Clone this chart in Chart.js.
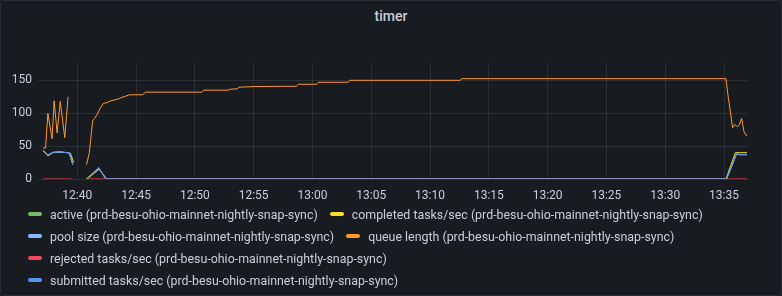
<!DOCTYPE html>
<html lang="en">
<head>
  <meta charset="UTF-8" />
  <title>timer</title>
  <script src="https://cdn.jsdelivr.net/npm/chart.js"></script>
  <style>
    html, body { margin: 0; padding: 0; background: #111217; }
    body { width: 782px; height: 296px; position: relative; overflow: hidden; font-family: Roboto, sans-serif; color: #ccccdc; }
    .panel { position: absolute; left: 0; top: 0; width: 780px; height: 294px; background: #181b1f; border: 1px solid #2a2d33; border-radius: 2px; }
    .title { position: absolute; left: 0; top: 8px; width: 782px; text-align: center; font-size: 14px; font-weight: 500; line-height: 17px; }
    .chart { position: absolute; left: 0; top: 50px; width: 782px; height: 160px; }
    #legend { position: absolute; left: 28px; top: 203px; width: 705px; display: flex; flex-wrap: wrap; font-size: 12.4px; }
    .item { display: flex; align-items: center; height: 22px; margin-right: 12px; white-space: nowrap; }
    .swatch { width: 14px; height: 4px; border-radius: 2px; margin-right: 8px; }
  </style>
</head>
<body>
  <div class="panel"></div>
  <div class="title">timer</div>
  <div class="chart"><canvas id="timerChart"></canvas></div>
  <div id="legend"></div>

  <script>
    // x ticks (minutes after 12:00) and their labels
    const tickMinutes = [40, 45, 50, 55, 60, 65, 70, 75, 80, 85, 90, 95];
    const tickLabels = ['12:40', '12:45', '12:50', '12:55', '13:00', '13:05', '13:10', '13:15', '13:20', '13:25', '13:30', '13:35'];

    // queue length
    const queueTimes = ['12:37:06','12:37:18','12:37:30','12:37:51','12:38:02','12:38:17','12:38:33','12:38:56','12:39:13','12:40:15',
      '12:40:47','12:41:01','12:41:18','12:41:28','12:41:41','12:41:56','12:42:13','12:42:32','12:42:52','12:43:23','12:43:48',
      '12:44:08','12:44:26','12:45:33','12:45:48','12:50:35','12:50:46','12:52:50','12:53:00','12:53:36','12:53:45','12:55:01',
      '12:58:39','12:58:48','13:00:21','13:00:30','13:03:03','13:03:11','13:12:33','13:12:43','13:35:10','13:35:21','13:35:44',
      '13:35:56','13:36:07','13:36:18','13:36:30','13:36:42','13:36:57'];
    const queueLength = [47, 47, 100, 61, 119, 70, 118, 63, 125, null,
      22, 39, 88, 92, 98, 107, 115, 116, 119, 121, 124,
      126, 128, 128, 132, 132, 135, 135, 136.5, 137, 139.5, 140.5,
      141, 144, 144, 147, 147, 150, 150, 152.5, 152.5, 126, 78,
      83, 79.5, 82, 92, 72, 65];

    // pool size / submitted tasks/sec
    const poolTimes = ['12:37:06','12:37:30','12:37:55','12:38:29','12:39:12','12:39:20','12:39:37','12:40:15','12:40:50','12:41:49','12:42:26','13:35:13','13:36:04','13:36:20','13:36:57'];
    const poolSize = [43, 36, 40.5, 41, 40, 39, 22, null, 0, 17, 0, 0, 38, 37, 37];
    const submitted = [43, 36, 40.5, 41, 40, 39, 22, null, 0, 17, 0, 0, 38, 37, 37];

    // active
    const activeTimes = ['12:37:06','12:37:30','12:37:55','12:38:29','12:39:12','12:39:20','12:39:37','12:40:15','12:40:45','12:41:49','12:42:26','13:35:13','13:36:04','13:36:20','13:36:57'];
    const active = [43, 36, 40.5, 41, 40, 39, 22, null, 0, 17, 0, 0, 38, 37, 37];

    // completed tasks/sec
    const completedTimes = ['12:37:06','12:37:30','12:37:55','12:38:29','12:39:12','12:39:25','12:39:42','12:40:15','12:40:50','12:41:52','12:42:30','13:35:10','13:35:58','13:36:57'];
    const completed = [43, 35, 40, 41, 40, 39, 25, null, 0, 15, 0, 0, 40, 40];

    // rejected tasks/sec
    const rejectedTimes = ['12:37:06','12:39:30','12:40:15','12:40:50','13:36:57'];
    const rejected = [0, 0, null, 0, 0];

    const host = ' (prd-besu-ohio-mainnet-nightly-snap-sync)';

    function toMin(s) {
      const [h, m, sec] = s.split(':').map(Number);
      return (h - 12) * 60 + m + sec / 60;
    }
    function pts(times, values) {
      return times.map((t, i) => ({ x: toMin(t), y: values[i] }));
    }

    const datasets = [
      { label: 'active' + host, data: pts(activeTimes, active), borderColor: '#73BF69', order: 5 },
      { label: 'completed tasks/sec' + host, data: pts(completedTimes, completed), borderColor: '#FADE2A', order: 4 },
      { label: 'pool size' + host, data: pts(poolTimes, poolSize), borderColor: '#8AB8FF', order: 3 },
      { label: 'queue length' + host, data: pts(queueTimes, queueLength), borderColor: '#FF9830', order: 2 },
      { label: 'rejected tasks/sec' + host, data: pts(rejectedTimes, rejected), borderColor: '#F2495C', order: 1 },
      { label: 'submitted tasks/sec' + host, data: pts(poolTimes, submitted), borderColor: '#5794F2', order: 0 }
    ];

    const gridColor = 'rgba(240, 250, 255, 0.09)';
    const tickFont = { family: 'Roboto', size: 12 };

    const chart = new Chart(document.getElementById('timerChart'), {
      type: 'line',
      data: { datasets },
      options: {
        responsive: true,
        maintainAspectRatio: false,
        animation: false,
        spanGaps: false,
        layout: { padding: { top: 9, right: 34, left: 0, bottom: 0 } },
        elements: {
          point: { radius: 0 },
          line: { borderWidth: 1, tension: 0 }
        },
        plugins: { legend: { display: false }, tooltip: { enabled: false } },
        scales: {
          x: {
            type: 'linear',
            min: 36.658,
            max: 97.041,
            afterBuildTicks: s => { s.ticks = tickMinutes.map(v => ({ value: v })); },
            afterFit: s => { s.height = 31; },
            ticks: {
              autoSkip: false, maxRotation: 0, padding: 10, color: '#ccccdc', font: tickFont,
              callback: v => tickLabels[tickMinutes.indexOf(v)]
            },
            grid: { color: gridColor, drawTicks: false },
            border: { display: false }
          },
          y: {
            min: 0,
            max: 176,
            afterBuildTicks: s => { s.ticks = s.ticks.filter(t => t.value % 50 === 0); },
            afterFit: s => { s.width = 38; },
            ticks: { stepSize: 50, padding: 6, color: '#ccccdc', font: tickFont },
            grid: { color: gridColor, drawTicks: false },
            border: { display: false }
          }
        }
      }
    });

    // legend
    const legend = document.getElementById('legend');
    chart.data.datasets.forEach(ds => {
      const item = document.createElement('div');
      item.className = 'item';
      item.innerHTML = '<span class="swatch" style="background:' + ds.borderColor + '"></span><span>' + ds.label + '</span>';
      legend.appendChild(item);
    });
  </script>
</body>
</html>
